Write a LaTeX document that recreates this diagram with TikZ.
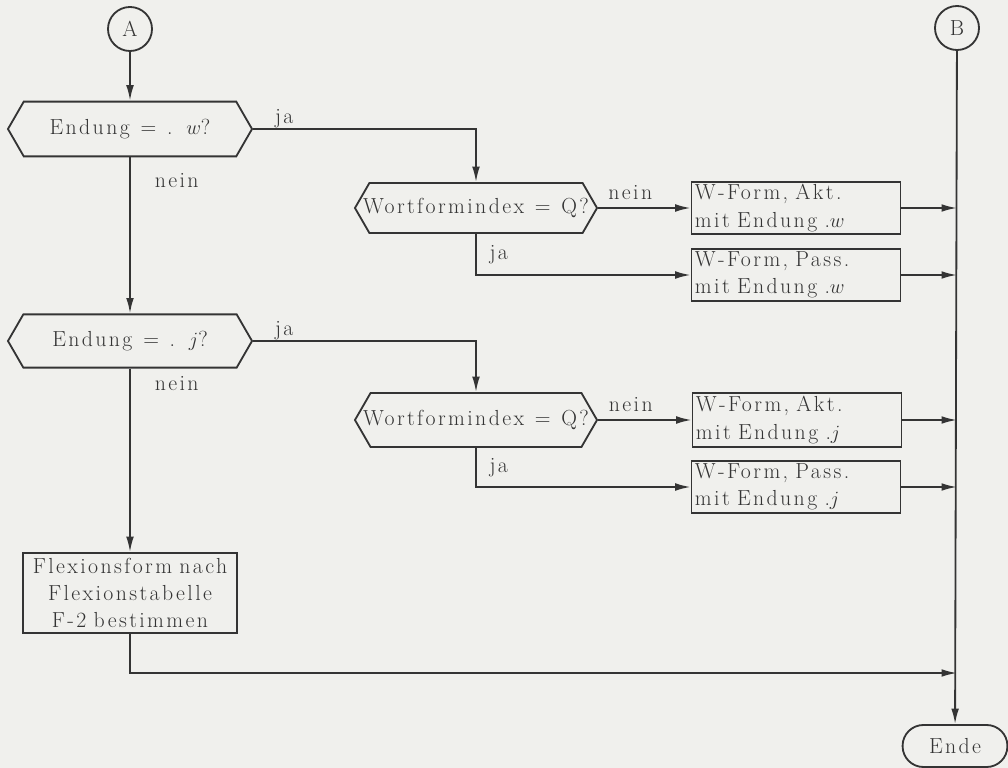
\documentclass[tikz,border=0pt]{standalone}
\usepackage{fontspec}
\usepackage{tikz}
\usetikzlibrary{shapes.symbols, shapes.misc, arrows.meta, positioning}
\definecolor{inkgray}{RGB}{52,52,52}
\definecolor{papergray}{RGB}{240,240,237}
\newfontfamily\spacedrm{Latin Modern Roman}[LetterSpace=11, WordSpace=1.2]
\newcommand{\typefont}{\spacedrm\fontsize{15.5}{19.5}\selectfont}
\tikzset{
  decision/.style={signal, signal to=west and east, signal pointer angle=120, draw=inkgray,
    text=inkgray, line width=1.3pt, minimum width=6.1cm, minimum height=1.33cm, inner xsep=-6pt,
    inner ysep=1pt, font=\typefont},
  procbox/.style={rectangle, draw=inkgray, text=inkgray, line width=1.3pt, minimum width=5.22cm,
    text width=5.05cm, align=left, minimum height=1.3cm, inner xsep=2pt, inner ysep=0pt,
    font=\typefont},
  connector/.style={circle, draw=inkgray, text=inkgray, line width=1.3pt, minimum size=1.1cm,
    inner sep=0pt, font=\typefont},
  terminal/.style={rectangle, rounded corners=0.52cm, draw=inkgray, text=inkgray, line width=1.3pt,
    minimum width=2.62cm, minimum height=1.05cm, font=\typefont},
  lbl/.style={text=inkgray, inner sep=0pt, font=\typefont},
  arrow/.style={-{Latex[length=11pt, width=5.5pt]}, line width=1.3pt, color=inkgray},
  line/.style={line width=1.3pt, color=inkgray}
}

\begin{document}
\begin{tikzpicture}[x=0.025cm, y=-0.025cm]
\fill[papergray] (0,0) rectangle (1008,768);
\useasboundingbox (0,0) rectangle (1008,768);

% connectors and terminal
\node[connector] (A) at (130,29) {A};
\node[connector] (B) at (957,28) {B};
\node[terminal] (ende) at (955,746) {Ende};

% decisions
\node[decision, minimum height=1.37cm] (endw) at (130,129) {Endung = . $w$?};
\node[decision, minimum height=1.25cm, minimum width=6.05cm] (wfw) at (476,208) {Wortformindex = Q?};
\node[decision] (endj) at (130,341) {Endung = . $j$?};
\node[decision, minimum height=1.35cm, minimum width=6.05cm] (wfj) at (476,420) {Wortformindex = Q?};

% boxes
\node[procbox] (aktw) at (796,208) {W-Form, Akt.\\mit Endung .$w$};
\node[procbox] (passw) at (796,275) {W-Form, Pass.\\mit Endung .$w$};
\node[procbox, minimum height=1.35cm] (aktj) at (797,420) {W-Form, Akt.\\mit Endung .$j$};
\node[procbox] (passj) at (796,487) {W-Form, Pass.\\mit Endung .$j$};
\node[procbox, minimum width=5.35cm, text width=5.35cm, align=center, minimum height=2cm,
  inner xsep=0pt] (flex) at (130,593) {Flexionsform nach\\Flexionstabelle\\F-2 bestimmen};

\coordinate (join) at (957,673);

% left column
\draw[arrow] (A) -- (endw);
\draw[arrow] (endw.south) -- node[lbl, pos=0.15, right=17pt] {nein} (endj.north);
\draw[arrow] (endj.south) -- node[lbl, pos=0.08, right=17pt] {nein} (flex.north);
\draw[arrow] (flex.south) |- (join);

% ja branches
\draw[arrow] (endw.east) -| node[lbl, pos=0.07, above=0pt] {ja} (wfw.north);
\draw[arrow] (endj.east) -| node[lbl, pos=0.07, above=0pt] {ja} (wfj.north);

% Wortformindex branches
\draw[arrow] (wfw.east) -- node[lbl, midway, above=5pt, xshift=-10pt] {nein} (aktw.west);
\draw[arrow] (wfw.south) |- node[lbl, pos=0.25, right=9pt] {ja} (passw.west);
\draw[arrow] (wfj.east) -- node[lbl, midway, above=5pt, xshift=-10pt] {nein} (aktj.west);
\draw[arrow] (wfj.south) |- node[lbl, pos=0.25, right=9pt] {ja} (passj.west);

% into the B line
\draw[arrow] (aktw.east) -- (aktw.east -| B);
\draw[arrow] (passw.east) -- (passw.east -| B);
\draw[arrow] (aktj.east) -- (aktj.east -| B);
\draw[arrow] (passj.east) -- (passj.east -| B);
\draw[arrow] (B) -- (ende);
\end{tikzpicture}
\end{document}
